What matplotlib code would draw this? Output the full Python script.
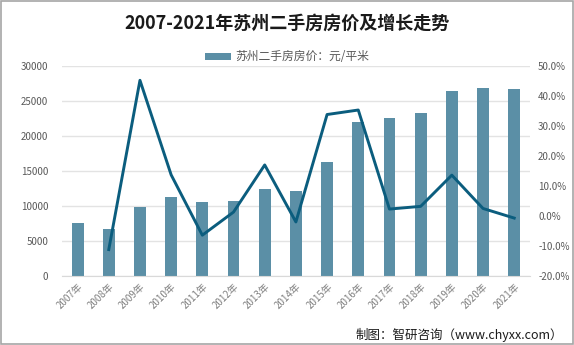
import matplotlib
matplotlib.use("Agg")
import matplotlib.pyplot as plt
from matplotlib.patches import Rectangle
from matplotlib.ticker import FuncFormatter

plt.rcParams['font.family'] = ['Noto Sans CJK SC', 'DejaVu Sans']

years = ['2007年', '2008年', '2009年', '2010年', '2011年', '2012年', '2013年', '2014年',
         '2015年', '2016年', '2017年', '2018年', '2019年', '2020年', '2021年']
prices = [7600, 6750, 9890, 11270, 10550, 10700, 12460, 12170,
          16260, 22060, 22490, 23300, 26380, 26910, 26770]
growth_years = years[1:]
growth = [-11.2, 45.2, 13.7, -6.4, 1.3, 17.0, -2.0, 33.8, 35.3, 2.3, 3.2, 13.6, 2.5, -0.7]

bar_color = '#5B8FA6'
line_color = '#0B5D7E'
tick_color = '#595959'
grid_color = '#E3E3E3'

fig = plt.figure(figsize=(5.74, 3.45), dpi=100)
ax = fig.add_axes([0.108, 0.2, 0.815, 0.609])
ax2 = ax.twinx()

x = list(range(len(years)))
bars = ax.bar(x, prices, width=0.38, color=bar_color, zorder=2,
              label='苏州二手房房价：元/平米')
gx = x[1:]
ax2.plot(gx, growth, color=line_color, linewidth=2.1, zorder=3)

ax.set_xlim(-0.5, len(years) - 0.5)
ax.set_ylim(0, 30000)
ax.set_yticks(range(0, 30001, 5000))
ax2.set_ylim(-20, 50)
ax2.set_yticks(range(-20, 51, 10))
ax2.yaxis.set_major_formatter(FuncFormatter(lambda v, p: f'{v:.1f}%'))

ax.yaxis.grid(True, color=grid_color, linewidth=1.0, zorder=0)
ax.set_axisbelow(True)

for a in (ax, ax2):
    for s in a.spines.values():
        s.set_visible(False)
    a.tick_params(length=0, colors=tick_color, labelsize=7)
ax.spines['bottom'].set_visible(True)
ax.spines['bottom'].set_color('#D9D9D9')

ax.set_xticks(x)
ax.set_xticklabels(years, rotation=45, ha='right', va='top', rotation_mode='anchor',
                   fontsize=7, color='#7F7F7F')
ax.tick_params(axis='x', pad=4)
ax.tick_params(axis='y', pad=10)
ax2.tick_params(axis='y', pad=6)

fig.text(0.5, 0.933, '2007-2021年苏州二手房房价及增长走势', ha='center', va='center',
         fontsize=13, fontweight='bold', color='#1a1a1a')

leg = fig.legend(handles=[bars], labels=['苏州二手房房价：元/平米'], loc='center',
                 bbox_to_anchor=(0.5, 0.835), frameon=False, fontsize=8.5,
                 handlelength=2.2, handleheight=0.6, handletextpad=0.3)
for t in leg.get_texts():
    t.set_color(tick_color)

fig.text(0.981, 0.028, '制图：智研咨询（www.chyxx.com）', ha='right', va='center',
         fontsize=9, color='#1a1a1a')

fig.patches.append(Rectangle((0.001, 0.002), 0.997, 0.995, transform=fig.transFigure,
                             fill=False, edgecolor='#A6A6A6', linewidth=1.2))

fig.savefig('out.png', dpi=100)
